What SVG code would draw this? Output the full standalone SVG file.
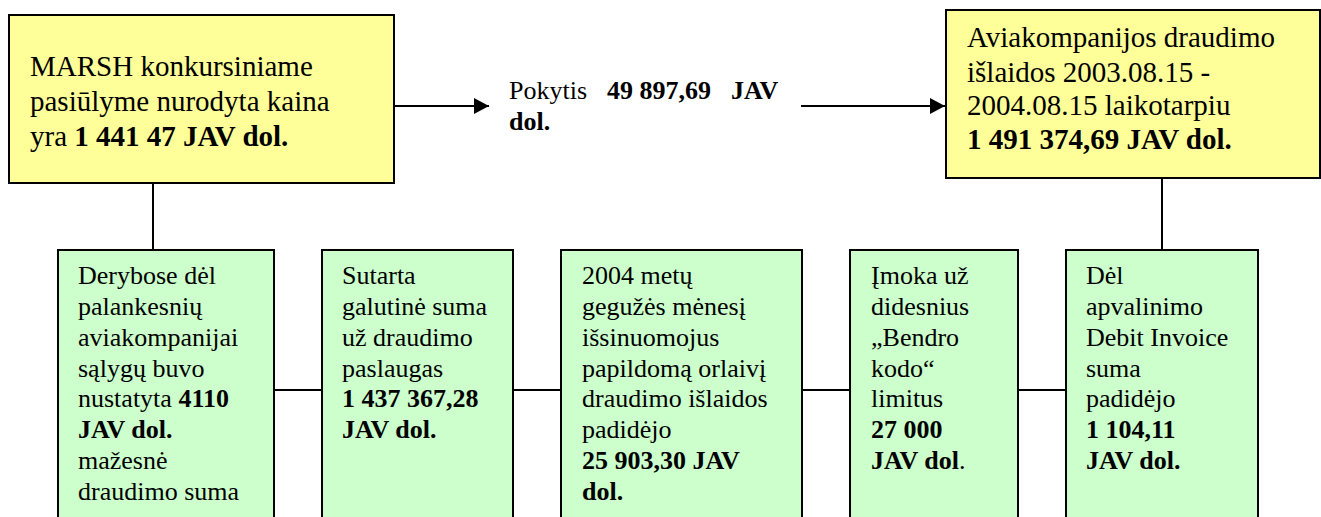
<svg xmlns="http://www.w3.org/2000/svg" width="1321" height="517" viewBox="0 0 1321 517">
<defs>
<marker id="ah" markerUnits="userSpaceOnUse" markerWidth="16" markerHeight="16" viewBox="0 0 16 16" refX="15" refY="8" orient="auto">
<path d="M0,0 L15,8 L0,16 Z" fill="#000"/>
</marker>
</defs>
<style>
.y{fill:#FFFF99;stroke:#000;stroke-width:2}
.g{fill:#CCFFCC;stroke:#000;stroke-width:2}
text{font-family:"Liberation Serif","Times New Roman",serif;fill:#000}
.t{font-size:29px}
.s{font-size:26px}
.b{font-weight:bold}
.c{stroke:#000;stroke-width:2;fill:none}
</style>
<rect width="1321" height="517" fill="#fff"/>
<g id="connectors">
<line class="c" x1="394" y1="106" x2="489" y2="106" marker-end="url(#ah)"/>
<line class="c" x1="801" y1="106" x2="945" y2="106" marker-end="url(#ah)"/>
<line class="c" x1="153" y1="183" x2="153" y2="250"/>
<line class="c" x1="1162" y1="178" x2="1162" y2="250"/>
<line class="c" x1="274" y1="390" x2="322" y2="390"/>
<line class="c" x1="513" y1="390" x2="561" y2="390"/>
<line class="c" x1="802" y1="390" x2="850" y2="390"/>
<line class="c" x1="1018" y1="390" x2="1066" y2="390"/>
</g>
<g id="marsh">
<rect class="y" x="9" y="15" width="385" height="168"/>
<text class="t"><tspan x="30" y="76">MARSH konkursiniame</tspan><tspan x="30" y="111">pasiūlyme nurodyta kaina</tspan><tspan x="30" y="146">yra <tspan class="b">1 441 47 JAV dol.</tspan></tspan></text>
</g>
<g id="pokytis">
<text class="s"><tspan x="509" y="99">Pokytis</tspan><tspan class="b" x="607" y="99">49 897,69</tspan><tspan class="b" x="731" y="99">JAV</tspan><tspan class="b" x="509" y="130">dol.</tspan></text>
</g>
<g id="aviakompanijos">
<rect class="y" x="946" y="10" width="374" height="168"/>
<text class="t"><tspan x="967" y="46.5">Aviakompanijos draudimo</tspan><tspan x="967" y="81.5">išlaidos 2003.08.15 -</tspan><tspan x="967" y="114.5">2004.08.15 laikotarpiu</tspan><tspan class="b" x="967" y="149">1 491 374,69 JAV dol.</tspan></text>
</g>
<g id="derybos">
<rect class="g" x="58" y="250" width="216" height="290"/>
<text class="s"><tspan x="78" y="284">Derybose dėl</tspan><tspan x="78" y="315">palankesnių</tspan><tspan x="78" y="346">aviakompanijai</tspan><tspan x="78" y="377">sąlygų buvo</tspan><tspan x="78" y="407">nustatyta <tspan class="b">4110</tspan></tspan><tspan class="b" x="78" y="438">JAV dol.</tspan><tspan x="78" y="469">mažesnė</tspan><tspan x="78" y="500">draudimo suma</tspan></text>
</g>
<g id="sutarta">
<rect class="g" x="322" y="250" width="191" height="290"/>
<text class="s"><tspan x="342" y="284">Sutarta</tspan><tspan x="342" y="315">galutinė suma</tspan><tspan x="342" y="346">už draudimo</tspan><tspan x="342" y="377">paslaugas</tspan><tspan class="b" x="342" y="407">1 437 367,28</tspan><tspan class="b" x="342" y="438">JAV dol.</tspan></text>
</g>
<g id="geguze">
<rect class="g" x="561" y="250" width="241" height="290"/>
<text class="s"><tspan x="582" y="284">2004 metų</tspan><tspan x="582" y="315">gegužės mėnesį</tspan><tspan x="582" y="346">išsinuomojus</tspan><tspan x="582" y="377">papildomą orlaivį</tspan><tspan x="582" y="407">draudimo išlaidos</tspan><tspan x="582" y="438">padidėjo</tspan><tspan class="b" x="582" y="469">25 903,30 JAV</tspan><tspan class="b" x="582" y="500">dol.</tspan></text>
</g>
<g id="imoka">
<rect class="g" x="850" y="250" width="168" height="290"/>
<text class="s"><tspan x="871" y="284">Įmoka už</tspan><tspan x="871" y="315">didesnius</tspan><tspan x="871" y="346">„Bendro</tspan><tspan x="871" y="377">kodo“</tspan><tspan x="871" y="407">limitus</tspan><tspan class="b" x="871" y="438">27 000</tspan><tspan x="871" y="469"><tspan class="b">JAV dol</tspan>.</tspan></text>
</g>
<g id="apvalinimas">
<rect class="g" x="1066" y="250" width="192" height="290"/>
<text class="s"><tspan x="1086" y="284">Dėl</tspan><tspan x="1086" y="315">apvalinimo</tspan><tspan x="1086" y="346">Debit Invoice</tspan><tspan x="1086" y="377">suma</tspan><tspan x="1086" y="407">padidėjo</tspan><tspan class="b" x="1086" y="438">1 104,11</tspan><tspan class="b" x="1086" y="469">JAV dol.</tspan></text>
</g>
</svg>
